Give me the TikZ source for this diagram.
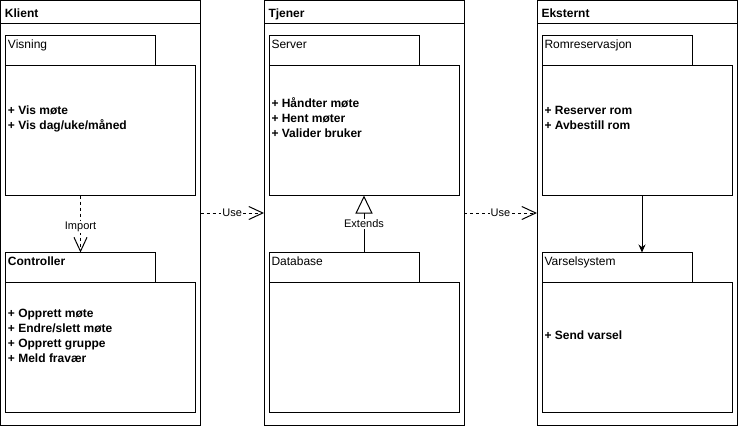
\documentclass[tikz,border=0pt]{standalone}
\usepackage{fontspec}
\setmainfont{Liberation Sans}
\usepackage{tikz}
\usetikzlibrary{arrows.meta}
\usetikzlibrary{calc,positioning}
\tikzset{
  pkgframe/.style={draw, rectangle, anchor=north west, minimum width=200pt, minimum height=425pt, inner sep=0pt, outer sep=0pt},
  framehead/.style={anchor=base west, inner sep=0pt, font=\fontsize{12}{14}\selectfont\bfseries},
  pkgtab/.style={draw, rectangle, anchor=north west, minimum width=150pt, minimum height=30pt, inner sep=0pt, outer sep=0pt},
  pkgbody/.style={draw, rectangle, anchor=north west, minimum width=190pt, minimum height=130pt, inner sep=0pt, outer sep=0pt},
  tabname/.style={anchor=base west, inner sep=0pt, font=\fontsize{12}{14}\selectfont},
  ops/.style={anchor=west, inner sep=0pt, align=left, font=\fontsize{12}{15}\selectfont\bfseries},
  edgelabel/.style={fill=white, inner sep=1pt, font=\fontsize{11}{13}\selectfont},
  usedep/.style={dash pattern=on 3pt off 3pt, -{Straight Barb[length=14pt,width=13pt]}},
  extendsdep/.style={-{Triangle[open,length=18pt,width=17pt]}},
  assoc/.style={-{Stealth[length=8pt,width=7pt]}}
}

\begin{document}
\begin{tikzpicture}[x=1pt,y=-1pt,line width=1pt]
\useasboundingbox (0,0) rectangle (739,429);
\node[pkgframe] (klient) at (0.5,0.5) {};
\node[pkgframe] (tjener) at (264,0.5) {};
\node[pkgframe] (eksternt) at (537,0.5) {};
\draw ($(klient.north west)+(0,23)$) -- ($(klient.north east)+(0,23)$);
\draw ($(tjener.north west)+(0,23)$) -- ($(tjener.north east)+(0,23)$);
\draw ($(eksternt.north west)+(0,23)$) -- ($(eksternt.north east)+(0,23)$);
\node[framehead] at ([shift={(4pt,-16.5pt)}]klient.north west) {Klient};
\node[framehead] at ([shift={(4pt,-16.5pt)}]tjener.north west) {Tjener};
\node[framehead] at ([shift={(4pt,-16.5pt)}]eksternt.north west) {Eksternt};

\node[pkgtab] (vistab) at ($(klient.north west)+(5,35)$) {};
\node[pkgbody] (visbody) at (vistab.south west) {};
\node[tabname] at ([shift={(2pt,-12.5pt)}]vistab.north west) {Visning};
\node[ops] at ([shift={(2pt,12pt)}]visbody.west) {+ Vis møte\\+ Vis dag/uke/måned};

\node[pkgtab] (ctrltab) at ($(klient.north west)+(5,252)$) {};
\node[pkgbody] (ctrlbody) at (ctrltab.south west) {};
\node[tabname, font=\fontsize{12}{14}\selectfont\bfseries] at ([shift={(2pt,-12.5pt)}]ctrltab.north west) {Controller};
\node[ops] at ([shift={(2pt,12pt)}]ctrlbody.west) {+ Opprett møte\\+ Endre/slett møte\\+ Opprett gruppe\\+ Meld fravær};

\node[pkgtab] (sertab) at ($(tjener.north west)+(5,35)$) {};
\node[pkgbody] (serbody) at (sertab.south west) {};
\node[tabname] at ([shift={(2pt,-12.5pt)}]sertab.north west) {Server};
\node[ops] at ([shift={(2pt,12.5pt)}]serbody.west) {+ Håndter møte\\+ Hent møter\\+ Valider bruker};

\node[pkgtab] (dbtab) at ($(tjener.north west)+(5,252)$) {};
\node[pkgbody] (dbbody) at (dbtab.south west) {};
\node[tabname] at ([shift={(2pt,-12.5pt)}]dbtab.north west) {Database};

\node[pkgtab] (romtab) at ($(eksternt.north west)+(5,35)$) {};
\node[pkgbody] (rombody) at (romtab.south west) {};
\node[tabname] at ([shift={(2pt,-12.5pt)}]romtab.north west) {Romreservasjon};
\node[ops] at ([shift={(2pt,12.5pt)}]rombody.west) {+ Reserver rom\\+ Avbestill rom};

\node[pkgtab] (varseltab) at ($(eksternt.north west)+(5,252)$) {};
\node[pkgbody] (varselbody) at (varseltab.south west) {};
\node[tabname] at ([shift={(2pt,-12.5pt)}]varseltab.north west) {Varselsystem};
\node[ops] at ([shift={(2pt,12.5pt)}]varselbody.west) {+ Send varsel};

\draw[usedep] (klient.east) -- node[edgelabel]{Use} (tjener.west);
\draw[usedep] (tjener.east) -- node[edgelabel]{Use} (eksternt.west);
\draw[usedep] (visbody.south -| ctrltab.north) -- node[edgelabel, pos=0.55]{Import} (ctrltab.north);
\draw[extendsdep] (serbody.south |- dbtab.north) -- node[edgelabel]{Extends} (serbody.south);
\draw[assoc] ([xshift=5pt]rombody.south) -- ([xshift=5pt]rombody.south |- varseltab.north);
\end{tikzpicture}
\end{document}
